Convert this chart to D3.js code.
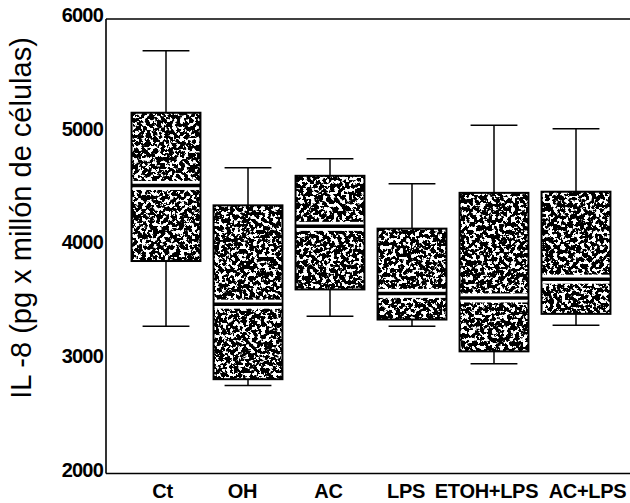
<!DOCTYPE html>
<meta charset="utf-8">
<script src="https://d3js.org/d3.v7.min.js"></script>
<style>
  body { margin: 0; background: #fff; }
</style>
<body>
<div id="my_dataviz"></div>
<script>

// data (IL-8, pg x millon de celulas)
var groups = ["Ct", "OH", "AC", "LPS", "ETOH+LPS", "AC+LPS"];
var whiskerHigh = [5720, 4690, 4770, 4550, 5065, 5035];
var q3 = [5175, 4360, 4620, 4155, 4470, 4480];
var medians = [4535, 3490, 4175, 3585, 3545, 3710];
var q1 = [3870, 2830, 3620, 3355, 3075, 3405];
var whiskerLow = [3295, 2775, 3385, 3295, 2965, 3305];
var yTicks = [2000, 3000, 4000, 5000, 6000];

// small nudges of the category labels, as in the print
var labelNudge = [-3.5, -5.5, -1.5, -6, -7.5, 11.5];

var data = groups.map(function(g, i) {
  return { name: g, hi: whiskerHigh[i], q3: q3[i], med: medians[i], q1: q1[i], lo: whiskerLow[i] };
});

var width = 630, height = 503;

var svg = d3.select("#my_dataviz")
  .append("svg")
  .attr("width", width)
  .attr("height", height);

// stippled fill, like the scanned print
var defs = svg.append("defs");
var f = defs.append("filter")
  .attr("id", "stipple")
  .attr("x", 0).attr("y", 0).attr("width", 1).attr("height", 1)
  .attr("color-interpolation-filters", "sRGB");
f.append("feTurbulence")
  .attr("type", "fractalNoise")
  .attr("baseFrequency", 0.26)
  .attr("numOctaves", 4)
  .attr("seed", 7)
  .attr("result", "noise");
f.append("feColorMatrix")
  .attr("in", "noise")
  .attr("type", "matrix")
  .attr("values", "0 0 0 0 0  0 0 0 0 0  0 0 0 0 0  -22 0 0 0 12.3")
  .attr("result", "dots");
f.append("feFlood").attr("flood-color", "#fff").attr("result", "white");
f.append("feMerge").call(function(m) {
  m.append("feMergeNode").attr("in", "white");
  m.append("feMergeNode").attr("in", "dots");
});

// scales
var x = d3.scaleBand()
  .domain(groups)
  .range([125, 617])
  .paddingInner(0.16)
  .paddingOuter(0.08);

var y = d3.scaleLinear()
  .domain([2000, 6000])
  .range([473.5, 19]);

var x0 = 106, x1 = 630;

// frame: left, top and bottom lines
svg.append("line")
  .attr("x1", x0).attr("x2", x0)
  .attr("y1", y(6000)).attr("y2", y(2000))
  .attr("stroke", "#000").attr("stroke-width", 1.6);
svg.append("line")
  .attr("x1", x0).attr("x2", x1)
  .attr("y1", y(6000)).attr("y2", y(6000))
  .attr("stroke", "#000").attr("stroke-width", 1.6);
svg.append("line")
  .attr("x1", x0).attr("x2", x1)
  .attr("y1", y(2000)).attr("y2", y(2000))
  .attr("stroke", "#000").attr("stroke-width", 1.6);

// y tick labels
svg.append("g")
  .selectAll("text")
  .data(yTicks)
  .enter()
  .append("text")
  .attr("x", 103)
  .attr("y", function(d) { return y(d) + 3; })
  .attr("text-anchor", "end")
  .style("font-family", "'Liberation Sans', Arial, sans-serif")
  .style("font-size", "20px")
  .style("font-weight", "bold")
  .style("letter-spacing", "-0.8px")
  .text(function(d) { return d; });

// y title
svg.append("text")
  .attr("transform", "translate(31,218) rotate(-90)")
  .attr("text-anchor", "middle")
  .style("font-family", "'Liberation Sans', Arial, sans-serif")
  .style("font-size", "29px")
  .text("IL -8 (pg x millón de células)");

// x labels
svg.append("g")
  .selectAll("text")
  .data(groups)
  .enter()
  .append("text")
  .attr("x", function(d, i) { return x(d) + x.bandwidth() / 2 + labelNudge[i]; })
  .attr("y", 498)
  .attr("text-anchor", "middle")
  .style("font-family", "'Liberation Sans Narrow', 'Arial Narrow', sans-serif")
  .style("font-size", "20px")
  .style("font-weight", "bold")
  .style("letter-spacing", "-0.3px")
  .text(function(d) { return d; });

// boxes
var bw = x.bandwidth();
var capW = bw * 0.68;
var box = svg.append("g")
  .selectAll("g")
  .data(data)
  .enter()
  .append("g");

// whiskers
box.append("line")
  .attr("x1", function(d) { return x(d.name) + bw / 2; })
  .attr("x2", function(d) { return x(d.name) + bw / 2; })
  .attr("y1", function(d) { return y(d.hi); })
  .attr("y2", function(d) { return y(d.lo); })
  .attr("stroke", "#000").attr("stroke-width", 1.5);
box.selectAll(".cap")
  .data(function(d) { return [{ n: d.name, v: d.hi }, { n: d.name, v: d.lo }]; })
  .enter()
  .append("line")
  .attr("class", "cap")
  .attr("x1", function(d) { return x(d.n) + bw / 2 - capW / 2; })
  .attr("x2", function(d) { return x(d.n) + bw / 2 + capW / 2; })
  .attr("y1", function(d) { return y(d.v); })
  .attr("y2", function(d) { return y(d.v); })
  .attr("stroke", "#000").attr("stroke-width", 1.5);

// stippled box
box.append("rect")
  .attr("x", function(d) { return x(d.name); })
  .attr("y", function(d) { return y(d.q3); })
  .attr("width", bw)
  .attr("height", function(d) { return y(d.q1) - y(d.q3); })
  .attr("fill", "#fff")
  .attr("filter", "url(#stipple)");
box.append("rect")
  .attr("x", function(d) { return x(d.name); })
  .attr("y", function(d) { return y(d.q3); })
  .attr("width", bw)
  .attr("height", function(d) { return y(d.q1) - y(d.q3); })
  .attr("fill", "none")
  .attr("stroke", "#000")
  .attr("stroke-width", 2);

// median: white band with a thick black line
box.append("rect")
  .attr("x", function(d) { return x(d.name) + 1; })
  .attr("y", function(d) { return y(d.med) - 4.5; })
  .attr("width", bw - 2)
  .attr("height", 9)
  .attr("fill", "#fff");
box.append("line")
  .attr("x1", function(d) { return x(d.name); })
  .attr("x2", function(d) { return x(d.name) + bw; })
  .attr("y1", function(d) { return y(d.med); })
  .attr("y2", function(d) { return y(d.med); })
  .attr("stroke", "#000").attr("stroke-width", 3.5);

</script>
</body>
